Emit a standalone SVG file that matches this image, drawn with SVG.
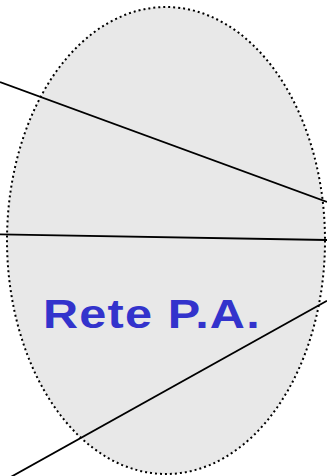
<svg xmlns="http://www.w3.org/2000/svg" width="327" height="476" viewBox="0 0 327 476">
<style>
.net{fill:#e8e8e8;stroke:#000;stroke-width:2;stroke-dasharray:2 3}
.ln{stroke:#000;stroke-width:1.8;fill:none}
.lbl{font-family:"Liberation Sans",Arial,sans-serif;font-weight:bold;font-size:40.5px;fill:#3333cc;letter-spacing:1px}
</style>
<rect width="327" height="476" fill="#fff"/>
<g id="rete">
<ellipse class="net" cx="166" cy="240.5" rx="159" ry="233.5"/>
</g>
<g id="connectors">
<line class="ln" x1="0" y1="82" x2="327" y2="202"/>
<line class="ln" x1="0" y1="234.3" x2="327" y2="240"/>
<line class="ln" x1="0" y1="483" x2="327" y2="300.7"/>
</g>
<g id="label">
<text class="lbl" transform="translate(43,328) scale(1.2,1)">Rete P.A.</text>
</g>
</svg>
